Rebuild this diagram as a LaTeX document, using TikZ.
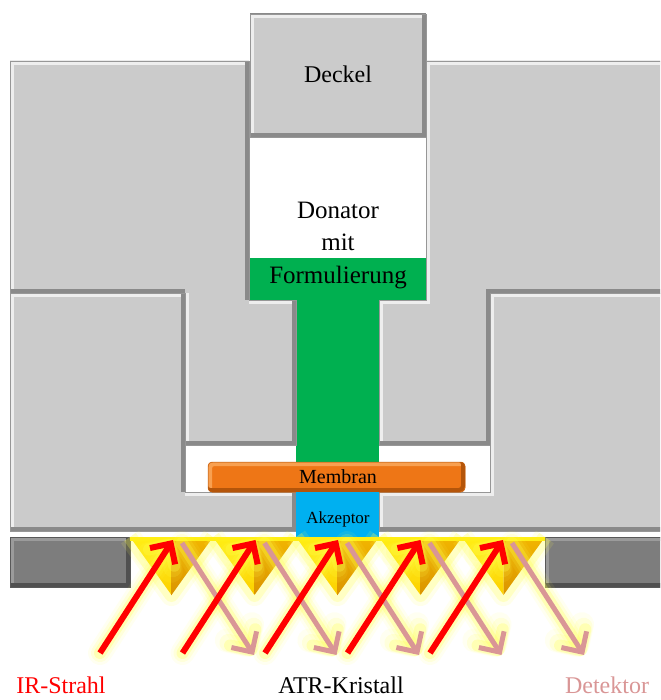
\documentclass[tikz,border=0pt]{standalone}
\usepackage{fontspec}
\setmainfont{Liberation Serif}
\usetikzlibrary{arrows.meta}

\definecolor{zellgrau}{RGB}{203,203,203}
\definecolor{hellkante}{RGB}{238,238,238}
\definecolor{dunkelkante}{RGB}{138,138,138}
\definecolor{blockgrau}{RGB}{125,125,125}
\definecolor{blockhell}{RGB}{155,155,155}
\definecolor{blockdunkel}{RGB}{80,80,80}
\definecolor{formgruen}{RGB}{0,176,80}
\definecolor{akzblau}{RGB}{0,176,240}
\definecolor{memorange}{RGB}{238,118,22}
\definecolor{memhell}{RGB}{248,160,80}
\definecolor{memdunkel}{RGB}{180,85,10}
\definecolor{kristhell}{RGB}{255,238,20}
\definecolor{kristgelb}{RGB}{252,208,0}
\definecolor{kristgold}{RGB}{242,182,0}
\definecolor{kristdunkel}{RGB}{218,148,0}
\definecolor{strahlrot}{RGB}{255,0,0}
\definecolor{detrosa}{RGB}{217,150,150}
\definecolor{leuchtgelb}{RGB}{255,255,80}

% bevelled part: #1 path, #2 fill, #3 light edge, #4 dark edge
\newcommand{\kantenteil}[4]{%
  \fill[#2] #1;
  \begin{scope}
    \clip #1;
    \draw[#3, line width=4pt, shift={(2,2)}] #1;
    \draw[#4, line width=4pt, shift={(-2,-2)}] #1;
  \end{scope}
  \draw[#4!80!#2, line width=0.5pt] #1;
}

\begin{document}
\begin{tikzpicture}[x=1pt, y=-1pt, line join=miter, >=stealth,
    schrift/.style={inner sep=0pt, anchor=base, font=\fontsize{24}{28}\selectfont},
    irpfeil/.style={strahlrot, line width=6pt, -{Straight Barb[length=15pt,width=30pt]}},
    detpfeil/.style={detrosa, line width=5pt, -{Straight Barb[length=15pt,width=30pt]}},
    leuchten/.style={leuchtgelb, line cap=round, line join=round, -{Straight Barb[length=15pt,width=30pt,round]}}]
  \useasboundingbox (0,0) rectangle (660,700);
  \clip (0,0) rectangle (660,700);

  % Donor compartment and channel
  \fill[formgruen] (250,258) rectangle (426,300);
  \fill[formgruen] (296,300) rectangle (379,492);

  % Lid
  \kantenteil{(250,14) rectangle (426,137)}{zellgrau}{hellkante}{dunkelkante}

  % Cell body, left half
  \kantenteil{(10,61) -- (249,61) -- (249,300) -- (296,300) -- (296,445) -- (185,445) -- (185,293) -- (10,293) -- cycle}{zellgrau}{hellkante}{dunkelkante}
  \kantenteil{(10,293) -- (185,293) -- (185,492) -- (296,492) -- (296,531) -- (10,531) -- cycle}{zellgrau}{hellkante}{dunkelkante}
  % Cell body, right half
  \kantenteil{(426,61) -- (670,61) -- (670,293) -- (490,293) -- (490,445) -- (379,445) -- (379,300) -- (426,300) -- cycle}{zellgrau}{hellkante}{dunkelkante}
  \kantenteil{(490,293) -- (670,293) -- (670,531) -- (379,531) -- (379,492) -- (490,492) -- cycle}{zellgrau}{hellkante}{dunkelkante}

  % Crystal holders
  \kantenteil{(10,537) rectangle (130,587)}{blockgrau}{blockhell}{blockdunkel}
  \kantenteil{(545,537) rectangle (670,587)}{blockgrau}{blockhell}{blockdunkel}

  % Membrane and acceptor
  \kantenteil{[rounded corners=4pt] (208,462) rectangle (465,492)}{memorange}{memhell}{memdunkel}
  \fill[akzblau] (296,492) rectangle (379,537);

  % Beam end points
  \foreach \i in {0,...,4} {
    \coordinate (ein\i) at (100+82.5*\i,653);
    \coordinate (kante\i) at (173+82.5*\i,540);
    \coordinate (aus\i) at (182+82.5*\i,543);
    \coordinate (det\i) at (254+82.5*\i,655);
  }

  % ATR crystal
  \foreach \i in {0,...,4} {
    \pgfmathsetmacro{\xa}{130+83*\i}
    \pgfmathsetmacro{\xm}{\xa+41.5}
    \pgfmathsetmacro{\xb}{\xa+83}
    \foreach \w/\o in {22/0.12,14/0.25} {
      \draw[leuchtgelb, line width=\w pt, opacity=\o, line join=round] (\xa,537) -- (\xm,595) -- (\xb,537);
    }
    \shade[top color=kristhell, bottom color=kristgelb] (\xa,537) -- (\xm,537) -- (\xm,595) -- cycle;
    \shade[top color=kristgold, bottom color=kristdunkel] (\xm,537) -- (\xb,537) -- (\xm,595) -- cycle;
  }
  \fill[kristhell] (130,537) rectangle (545,541);

  % Glow round the beams
  \foreach \i in {0,...,4} {
    \foreach \w/\o in {24/0.08,18/0.14,12/0.28} {
      \draw[leuchten, line width=\w pt, opacity=\o] (aus\i) -- (det\i);
      \draw[leuchten, line width=\w pt, opacity=\o] (ein\i) -- (kante\i);
    }
  }
  % Reflected and incoming beams
  \foreach \i in {0,...,4} \draw[detpfeil] (aus\i) -- (det\i);
  \foreach \i in {0,...,4} \draw[irpfeil] (ein\i) -- (kante\i);

  % Labels
  \node[schrift] (deckel) at (338,83) {Deckel};
  \node[schrift, font=\fontsize{25}{28}\selectfont] (donator) at (338,219) {Donator};
  \node[schrift, font=\fontsize{25}{28}\selectfont] (mit) at (338,251) {mit};
  \node[schrift, font=\fontsize{25}{28}\selectfont] (formulierung) at (338,283) {Formulierung};
  \node[schrift, font=\fontsize{20}{24}\selectfont] (membran) at (338,483) {Membran};
  \node[schrift, font=\fontsize{17}{20}\selectfont] (akzeptor) at (338,523) {Akzeptor};
  \node[schrift, text=strahlrot] (irstrahl) at (61,693) {IR-Strahl};
  \node[schrift] (atr) at (341,693) {ATR-Kristall};
  \node[schrift, text=detrosa] (detektor) at (607,693) {Detektor};
\end{tikzpicture}
\end{document}
